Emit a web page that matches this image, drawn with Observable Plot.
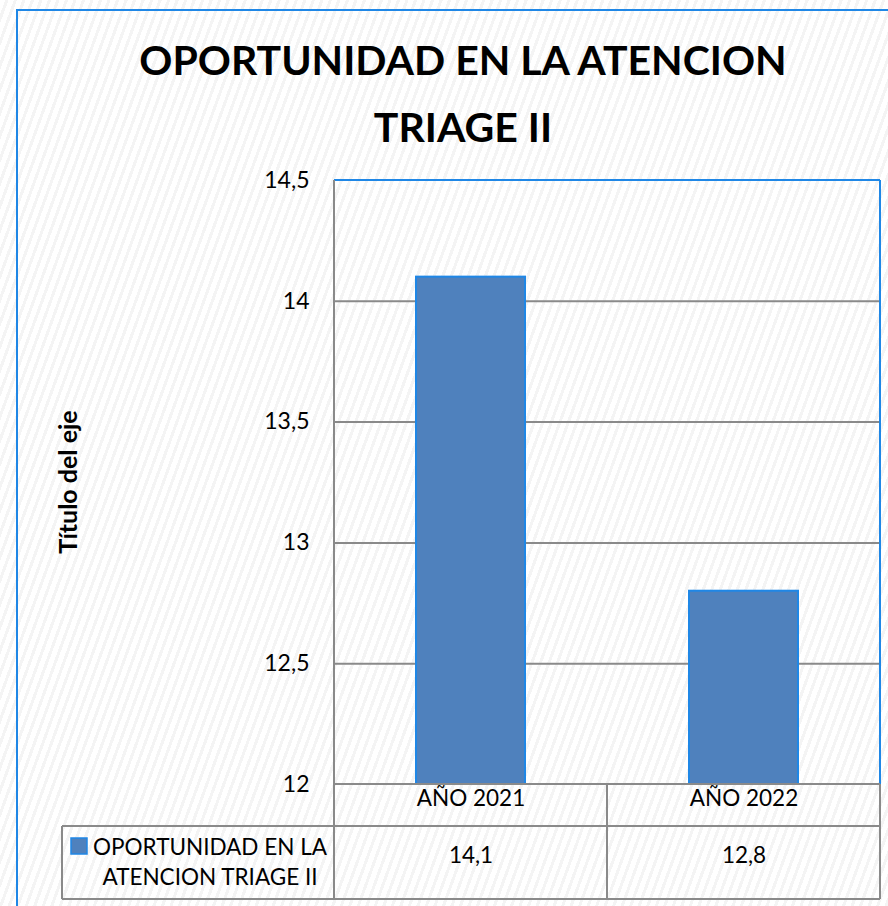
<!DOCTYPE html>
<html><head><meta charset="utf-8">
<script src="https://cdn.jsdelivr.net/npm/d3@7"></script>
<script src="https://cdn.jsdelivr.net/npm/@observablehq/plot@0.6"></script>
<style>
html,body{margin:0;padding:0;}
body{width:888px;height:906px;overflow:hidden;position:relative;font-family:Lato,"Open Sans",sans-serif;
  background:repeating-linear-gradient(110deg,#ffffff 0px,#ffffff 5px,#f4f4f4 5px,#f4f4f4 8px);}
#frame{position:absolute;left:16px;top:9px;width:900px;height:930px;border:2px solid #1f87e6;box-sizing:border-box;}
#title{position:absolute;left:0;width:926px;top:26px;text-align:center;font-weight:bold;font-size:41px;line-height:67px;color:#000;}
#ytitle{position:absolute;left:67px;top:482px;transform:translate(-50%,-50%) rotate(-90deg);font-weight:bold;font-size:25px;white-space:nowrap;color:#000;}
#chart{position:absolute;left:0;top:0;}
</style></head>
<body>
<div id="frame"></div>
<div id="title">OPORTUNIDAD EN LA ATENCION<br>TRIAGE II</div>
<div id="ytitle">Título del eje</div>
<div id="chart"></div>
<script>
const categories = ["AÑO 2021", "AÑO 2022"];
const values = [14.1, 12.8];
const seriesName = ["OPORTUNIDAD EN LA", "ATENCION TRIAGE II"];
const yTicks = [12, 12.5, 13, 13.5, 14, 14.5];

const data = categories.map((c, i) => ({year: c, value: values[i]}));
const fmt = d => String(d).replace(".", ",");
const GRAY = "#8a8a8a", BLUE = "#1f87e6", FILL = "#4f81bd";
const TXT = 22.5;

function tableMark(index, scales, vals, dims) {
  const x = scales.x;
  const step = x.step(), bw = x.bandwidth();
  const {width, height, marginLeft, marginRight, marginTop, marginBottom} = dims;
  const left = marginLeft, right = width - marginRight;
  const top = marginTop, base = height - marginBottom;
  const row1 = base + 42, row2 = base + 115;
  const legLeft = 62;
  const edges = categories.map(c => x(c) + bw / 2 - step / 2);
  edges.push(x(categories[categories.length - 1]) + bw / 2 + step / 2);
  const g = d3.create("svg:g");
  const line = (x1, y1, x2, y2, c) => g.append("line").attr("x1", x1).attr("y1", y1).attr("x2", x2).attr("y2", y2)
    .attr("stroke", c).attr("stroke-width", 2);
  line(left, top, right, top, BLUE);
  line(right, top, right, base, BLUE);
  line(left, top, left, row2, GRAY);
  line(left, base, right, base, GRAY);
  line(legLeft, row1, right, row1, GRAY);
  line(legLeft, row2, right, row2, GRAY);
  line(legLeft, row1, legLeft, row2, GRAY);
  edges.slice(1).forEach(e => line(e, base, e, row2, GRAY));
  g.append("rect").attr("x", legLeft + 9).attr("y", row1 + 12).attr("width", 16).attr("height", 16)
    .attr("fill", FILL).attr("stroke", BLUE).attr("stroke-width", 1.5);
  const cx = 210;
  g.append("text").attr("x", cx).attr("y", row1 + 21).attr("text-anchor", "middle").attr("dy", "0.35em")
    .attr("font-size", TXT).attr("fill", "#000").text(seriesName[0]);
  g.append("text").attr("x", cx).attr("y", row1 + 51).attr("text-anchor", "middle").attr("dy", "0.35em")
    .attr("font-size", TXT).attr("fill", "#000").text(seriesName[1]);
  return g.node();
}

const plot = Plot.plot({
  width: 888,
  height: 906,
  marginTop: 180,
  marginRight: 8,
  marginBottom: 122,
  marginLeft: 334,
  style: {background: "transparent", fontFamily: "Lato, 'Open Sans', sans-serif", color: "#000", overflow: "visible"},
  x: {domain: categories, paddingInner: 0.6, paddingOuter: 0.3, axis: null},
  y: {domain: [12, 14.5], axis: null},
  marks: [
    Plot.gridY({ticks: yTicks.filter(t => t > 12 && t < 14.5), stroke: GRAY, strokeOpacity: 1, strokeWidth: 2}),
    Plot.barY(data, {x: "year", y1: 12, y2: "value", fill: FILL, stroke: BLUE, strokeWidth: 2}),
    Plot.axisY({ticks: yTicks, tickSize: 0, tickPadding: 25, tickFormat: fmt, fontSize: 23, label: null}),
    tableMark,
    Plot.text(categories, {x: d => d, frameAnchor: "bottom", dy: 21, fontSize: TXT, fill: "#000"}),
    Plot.text(data, {x: "year", text: d => fmt(d.value), frameAnchor: "bottom", dy: 78, fontSize: TXT, fill: "#000"})
  ]
});
document.getElementById("chart").append(plot);
</script>
</body></html>
